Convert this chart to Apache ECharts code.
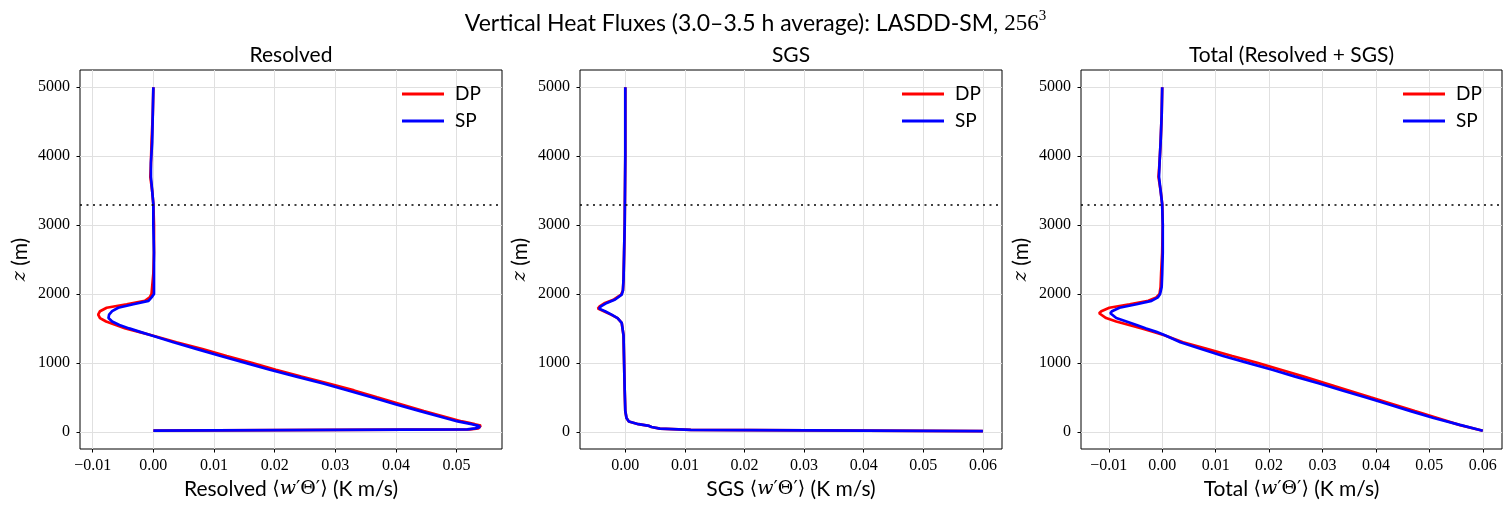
<!DOCTYPE html>
<html>
<head>
<meta charset="utf-8">
<script src="https://cdn.jsdelivr.net/npm/echarts@6/dist/echarts.min.js"></script>
<style>
  html, body { margin: 0; padding: 0; background: #fff; }
  #main { width: 1511px; height: 511px; }
</style>
</head>
<body>
<div id="main"></div>
<script>
// heights (m) and fluxes (K m/s)
const resZ = [5000, 4600, 4200, 3900, 3700, 3500, 3300, 3000, 2600, 2300,
  2100, 2000, 1950, 1900, 1850, 1800, 1750, 1700, 1650, 1600, 1550, 1500, 1450, 1400,
  1300, 1200, 1100, 1000, 900, 800, 700, 600, 500, 400, 300, 200,
  150, 110, 90, 70, 50, 35, 18];
const resDP = [0.0000, -0.0001, -0.0003, -0.0004, -0.0005, -0.0002, 0.0000, 0.0001, 0.0001, 0.0000,
  -0.0002, -0.0003, -0.0006, -0.0014, -0.0044, -0.0077, -0.0088, -0.0091, -0.0088, -0.0078, -0.0062, -0.0046, -0.0024, -0.0003,
  0.0038, 0.0081, 0.0121, 0.0162, 0.0202, 0.0244, 0.0289, 0.0331, 0.0369, 0.0408, 0.0446, 0.0488,
  0.0509, 0.0530, 0.0540, 0.0541, 0.0536, 0.0522, 0.0000];
const resSP = [0.0000, -0.0001, -0.0002, -0.0004, -0.0004, -0.0002, 0.0000, 0.0000, 0.0001, 0.0001,
  0.0001, 0.0001, -0.0003, -0.0008, -0.0033, -0.0058, -0.0068, -0.0073, -0.0074, -0.0068, -0.0056, -0.0040, -0.0022, -0.0004,
  0.0033, 0.0072, 0.0111, 0.0152, 0.0192, 0.0236, 0.0280, 0.0321, 0.0360, 0.0399, 0.0440, 0.0481,
  0.0502, 0.0525, 0.0535, 0.0539, 0.0531, 0.0518, 0.0000];

const sgsZ = [5000, 4000, 3000, 2600, 2200, 2050, 1990, 1920, 1870, 1820, 1787, 1750, 1700, 1650, 1580,
  1400, 1000, 600, 300, 200, 150, 110, 85, 70, 45, 28, 10];
const sgsDP = [0.0000, 0.0000, -0.0001, -0.0002, -0.0003, -0.0004, -0.0007, -0.0019, -0.0034, -0.0043, -0.0046, -0.0036, -0.0024, -0.0013, -0.0006,
  -0.0003, -0.0002, -0.0001, 0.0000, 0.0002, 0.0006, 0.0022, 0.0040, 0.0044, 0.0058, 0.0110, 0.0600];
const sgsSP = [0.0000, 0.0000, -0.0001, -0.0002, -0.0003, -0.0004, -0.0006, -0.0017, -0.0031, -0.0041, -0.0044, -0.0034, -0.0023, -0.0013, -0.0006,
  -0.0003, -0.0002, -0.0001, 0.0000, 0.0002, 0.0006, 0.0022, 0.0040, 0.0044, 0.0058, 0.0110, 0.0600];

const totZ = [5000, 4600, 4200, 3900, 3700, 3500, 3300, 3000, 2600, 2300,
  2100, 2000, 1950, 1900, 1850, 1800, 1750, 1720, 1700, 1650, 1600, 1550, 1500, 1450, 1400,
  1300, 1200, 1100, 1000, 900, 800, 700, 600, 500, 400, 300, 200, 100, 15];
const totDP = [0.0000, -0.0001, -0.0003, -0.0005, -0.0007, -0.0003, 0.0000, 0.0001, 0.0000, -0.0002,
  -0.0003, -0.0005, -0.0011, -0.0026, -0.0061, -0.0099, -0.0114, -0.0118, -0.0117, -0.0105, -0.0086, -0.0062, -0.0038, -0.0016, 0.0004,
  0.0039, 0.0085, 0.0131, 0.0178, 0.0222, 0.0265, 0.0307, 0.0349, 0.0390, 0.0432, 0.0473, 0.0515, 0.0556, 0.0600];
const totSP = [0.0000, -0.0001, -0.0003, -0.0005, -0.0006, -0.0003, 0.0000, 0.0001, 0.0001, 0.0000,
  -0.0001, -0.0004, -0.0008, -0.0020, -0.0048, -0.0080, -0.0094, -0.0097, -0.0096, -0.0086, -0.0067, -0.0048, -0.0030, -0.0011, 0.0005,
  0.0034, 0.0073, 0.0114, 0.0160, 0.0206, 0.0249, 0.0294, 0.0337, 0.0380, 0.0423, 0.0465, 0.0508, 0.0557, 0.0600];

const pblHeight = 3300;
const zTicks = [0, 1000, 2000, 3000, 4000, 5000];
const resTicks = [-0.01, 0.00, 0.01, 0.02, 0.03, 0.04, 0.05];
const sgsTicks = [0.00, 0.01, 0.02, 0.03, 0.04, 0.05, 0.06];
const totTicks = [-0.01, 0.00, 0.01, 0.02, 0.03, 0.04, 0.05, 0.06];
const panelTitles = ['Resolved', 'SGS', 'Total (Resolved + SGS)'];
const xNames = ['Resolved', 'SGS', 'Total'];

const SANS = 'Lato';
const SERIF = 'Liberation Serif';
const MATH = 'DejaVu Serif';

const panels = [
  {z: resZ, dp: resDP, sp: resSP, ticks: resTicks, min: -0.0121, max: 0.0575, left: 80, width: 422, legendLeft: 402},
  {z: sgsZ, dp: sgsDP, sp: sgsSP, ticks: sgsTicks, min: -0.0076, max: 0.0632, left: 580, width: 422, legendLeft: 902},
  {z: totZ, dp: totDP, sp: totSP, ticks: totTicks, min: -0.0152, max: 0.0636, left: 1081, width: 421, legendLeft: 1403},
];

function pairs(xs, zs) {
  return zs.map((z, i) => [xs[i], z]);
}

function fmtX(v) {
  const s = Math.abs(v).toFixed(2);
  return v < -1e-9 ? '\u2212' + s : s;
}

function fmtZ(v) {
  return String(Math.round(v));
}

const richMath = {
  m: {fontFamily: MATH, fontSize: 19, color: '#000'},
  i: {fontFamily: MATH, fontStyle: 'italic', fontSize: 19, color: '#000'},
};

const chart = echarts.init(document.getElementById('main'));

let option = {
  animation: false,
  backgroundColor: '#fff',
  title: {
    text: 'Vertical Heat Fluxes (3.0\u20133.5 h average): LASDD-SM, {m|256}{sup|3}',
    left: 'center',
    top: 4,
    textStyle: {
      fontFamily: SANS, fontSize: 23, fontWeight: 'normal', color: '#000', lineHeight: 30,
      rich: {
        m: {fontFamily: SERIF, fontSize: 23, color: '#000'},
        sup: {fontFamily: SERIF, fontSize: 15, color: '#000', verticalAlign: 'top', lineHeight: 17},
      },
    },
  },
  grid: [],
  xAxis: [],
  yAxis: [],
  legend: [],
  series: [],
  graphic: [],
};

panels.forEach((p, i) => {
  option.grid.push({
    left: p.left, top: 70, width: p.width, height: 379,
    show: true, borderColor: '#000', borderWidth: 1, backgroundColor: 'transparent',
  });
  option.xAxis.push({
    type: 'value', gridIndex: i, min: p.min, max: p.max,
    position: 'bottom',
    axisLine: {show: false, onZero: false},
    axisTick: {show: true, length: 3.5, customValues: p.ticks, lineStyle: {color: '#000', width: 1}},
    axisLabel: {customValues: p.ticks, margin: 9, formatter: fmtX, fontFamily: SERIF, fontSize: 16, color: '#000'},
    splitLine: {show: true, lineStyle: {color: '#e0e0e0', width: 1}},
    name: xNames[i] + ' {m|\u27e8}{i|w}{m|\u2032\u0398\u2032\u27e9} (K m/s)',
    nameLocation: 'middle',
    nameGap: 28,
    nameTextStyle: {fontFamily: SANS, fontSize: 21, color: '#000', rich: richMath},
  });
  option.yAxis.push({
    type: 'value', gridIndex: i, min: -250, max: 5250,
    position: 'left',
    axisLine: {show: false, onZero: false},
    axisTick: {show: true, length: 3.5, customValues: zTicks, lineStyle: {color: '#000', width: 1}},
    axisLabel: {customValues: zTicks, margin: 10, formatter: fmtZ, fontFamily: SERIF, fontSize: 16, color: '#000'},
    splitLine: {show: true, lineStyle: {color: '#e0e0e0', width: 1}},
    name: '{i|z} (m)',
    nameLocation: 'middle',
    nameGap: 49,
    nameTextStyle: {fontFamily: SANS, fontSize: 21, color: '#000', rich: richMath},
  });
  option.legend.push({
    data: ['DP', 'SP'],
    orient: 'vertical',
    left: p.legendLeft, top: 84,
    padding: 0,
    itemWidth: 42, itemHeight: 3, itemGap: 7,
    icon: 'rect',
    selectedMode: false,
    textStyle: {fontFamily: SANS, fontSize: 19, color: '#000', lineHeight: 20, padding: [0, 0, 0, 6]},
  });
  option.series.push({
    name: 'DP', type: 'line', xAxisIndex: i, yAxisIndex: i,
    data: pairs(p.dp, p.z),
    showSymbol: false, symbol: 'none', smooth: false,
    color: '#ff0000',
    lineStyle: {color: '#ff0000', width: 2.7},
  });
  option.series.push({
    name: 'SP', type: 'line', xAxisIndex: i, yAxisIndex: i,
    data: pairs(p.sp, p.z),
    showSymbol: false, symbol: 'none', smooth: false,
    color: '#0000ff',
    lineStyle: {color: '#0000ff', width: 2.7},
    markLine: {
      silent: true,
      symbol: 'none',
      label: {show: false},
      lineStyle: {color: '#000', type: [2, 4.5], width: 1.6},
      data: [{yAxis: pblHeight}],
    },
  });
  option.graphic.push({
    type: 'text',
    x: p.left + p.width / 2,
    y: 55,
    style: {
      text: panelTitles[i],
      font: '21px ' + SANS,
      fill: '#000',
      align: 'center', verticalAlign: 'middle',
      textAlign: 'center', textVerticalAlign: 'middle',
    },
  });
});

chart.setOption(option);
window.addEventListener('resize', () => {
  chart.resize();
});
</script>
</body>
</html>
